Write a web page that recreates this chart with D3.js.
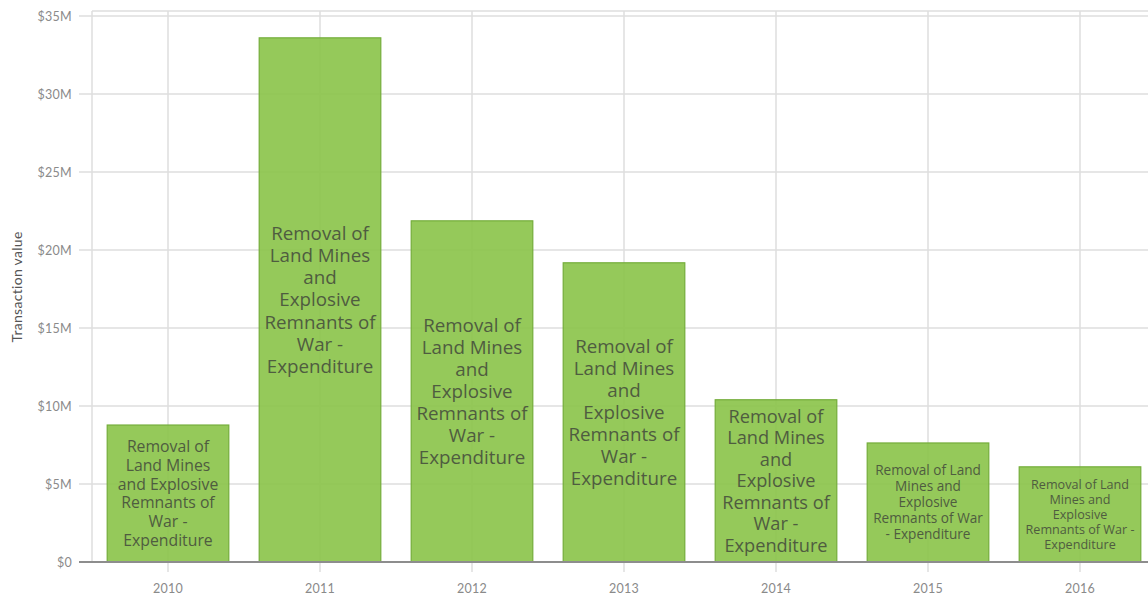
<!DOCTYPE html>
<html><head><meta charset="utf-8">
<script src="https://cdn.jsdelivr.net/npm/d3@7"></script>
<style>
body{margin:0;background:#fff;}
svg{display:block;}
</style></head>
<body><svg id="chart" width="1148" height="595"></svg>
<script>
const categories = ["2010","2011","2012","2013","2014","2015","2016"];
const values = [8.78e6, 33.6e6, 21.87e6, 19.18e6, 10.4e6, 7.63e6, 6.1e6];
const barLabel = "Removal of Land Mines and Explosive Remnants of War - Expenditure";
const yTicks = [0,5e6,10e6,15e6,20e6,25e6,30e6,35e6];
const yTitle = "Transaction value";

(function(){
const svg = d3.select("#chart");
const pLeft = 92, pTop = 11, pRight = 1156, pBottom = 562;
const x = d3.scaleBand().domain(categories).range([pLeft, pRight]).paddingInner(0.2).paddingOuter(0.1);
const y = d3.scaleLinear().domain([0, 35e6]).range([pBottom, 16]);
const fmt = v => v === 0 ? "$0" : "$" + (v/1e6) + "M";
const axisFont = "Lato, 'Open Sans', sans-serif";

const yAxis = d3.axisLeft(y).tickValues(yTicks).tickFormat(fmt).tickSize(0).tickPadding(7);
const yg = svg.append("g").attr("transform", `translate(79,0)`).call(yAxis);
yg.select(".domain").remove();
yg.selectAll("text").attr("fill","#8a8a8a").style("font-family",axisFont).style("font-size","12.5px").style("letter-spacing","0.3px");
svg.append("g").selectAll("line").data(yTicks.filter(d=>d>0)).join("line")
  .attr("x1", 79).attr("x2", 1148).attr("y1", d=>y(d)).attr("y2", d=>y(d))
  .attr("stroke", "#dedede").attr("stroke-width", 1.5);
svg.append("line").attr("x1", pLeft).attr("x2", 1148).attr("y1", pTop).attr("y2", pTop).attr("stroke","#dedede").attr("stroke-width",1.5);
svg.append("line").attr("x1", pLeft).attr("x2", pLeft).attr("y1", pTop).attr("y2", pBottom).attr("stroke","#dedede").attr("stroke-width",1.5);
svg.append("g").selectAll("line").data(categories).join("line")
  .attr("x1", d=>x(d)+x.bandwidth()/2).attr("x2", d=>x(d)+x.bandwidth()/2)
  .attr("y1", pTop).attr("y2", pBottom+10)
  .attr("stroke","#dedede").attr("stroke-width",1.5);

const xAxis = d3.axisBottom(x).tickSize(0).tickPadding(22);
const xg = svg.append("g").attr("transform", `translate(0,${pBottom})`).call(xAxis);
xg.select(".domain").remove();
xg.selectAll("text").attr("fill","#8a8a8a").style("font-family",axisFont).style("font-size","12.5px").style("letter-spacing","0.3px");

svg.append("g").selectAll("rect").data(values).join("rect")
  .attr("x", (d,i)=>x(categories[i])).attr("width", x.bandwidth())
  .attr("y", d=>y(d)).attr("height", d=>pBottom - y(d))
  .attr("fill", "#8cc44c").attr("fill-opacity", 0.92)
  .attr("stroke", "#74ad3a").attr("stroke-width", 1.2);

svg.append("line").attr("x1", 79).attr("x2", 1148).attr("y1", pBottom).attr("y2", pBottom).attr("stroke","#8d8d8d").attr("stroke-width",2);

svg.append("text").attr("transform", `translate(22,287) rotate(-90)`)
  .attr("text-anchor","middle").attr("fill","#555").style("font-family",axisFont).style("font-size","14px").style("letter-spacing","0.3px").text(yTitle);

// label font size grows with bar height, then text is wrapped to the bar width
const labelFont = "'Open Sans', sans-serif";
const fontScale = d3.scaleLinear().domain([95, 119, 137, 162, 200]).range([12.6, 13.6, 15.8, 18.2, 18.75]).clamp(true);
const measurer = svg.append("text").style("font-family",labelFont).attr("visibility","hidden");
function textW(s, fs){ measurer.style("font-size", fs+"px").text(s); return measurer.node().getComputedTextLength(); }
function wrap(text, maxW, fs){
  const words = text.split(" "); const lines = []; let cur = "";
  for (const w of words){
    const t = cur ? cur + " " + w : w;
    if (textW(t, fs) <= maxW || !cur) cur = t; else { lines.push(cur); cur = w; }
  }
  if (cur) lines.push(cur);
  return lines;
}
const lblG = svg.append("g");
values.forEach((v,i)=>{
  const bw = x.bandwidth(), h = pBottom - y(v);
  const maxW = bw - 8.5;
  let fs = fontScale(h), lines = wrap(barLabel, maxW, fs);
  while (fs > 8 && lines.length * fs * 1.18 > h - 6) { fs -= 0.25; lines = wrap(barLabel, maxW, fs); }
  const lh = fs*1.18;
  const cx = x(categories[i]) + bw/2, cy = y(v) + h/2;
  const t = lblG.append("text").attr("text-anchor","middle")
    .style("font-family",labelFont).style("font-size", fs+"px").attr("fill","#4f5c40");
  lines.forEach((l,j)=>{
    t.append("tspan").attr("x", cx).attr("y", cy + (j - (lines.length-1)/2)*lh).attr("dy","0.35em").text(l);
  });
});
measurer.remove();
})();
</script></body></html>
